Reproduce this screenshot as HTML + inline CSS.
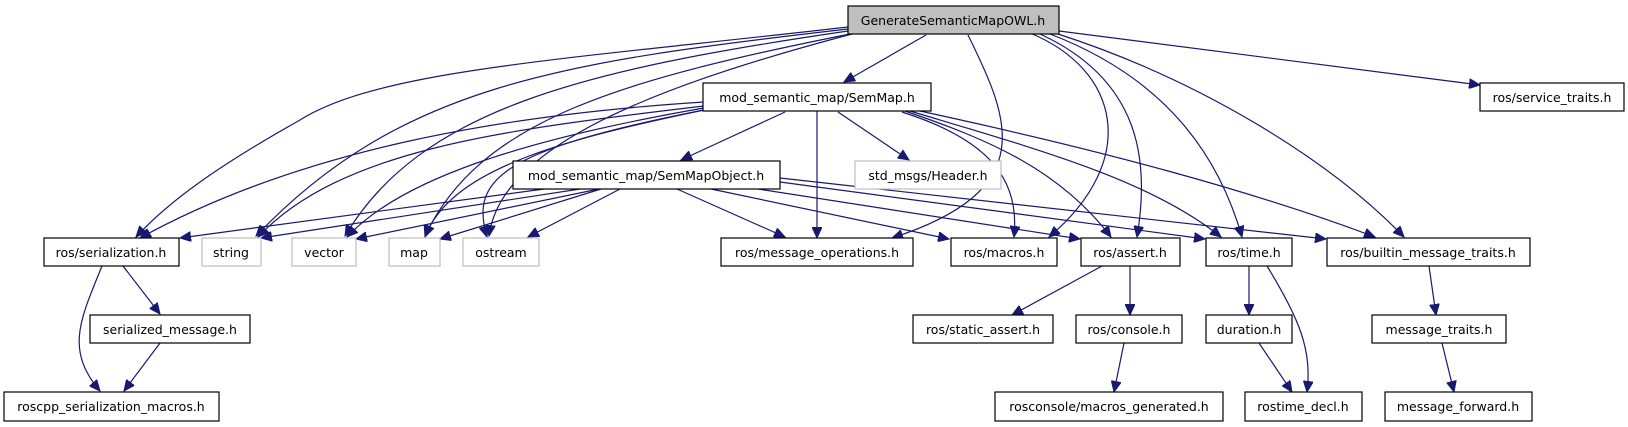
<!DOCTYPE html>
<html><head><meta charset="utf-8"><style>
html,body{margin:0;padding:0;background:#fff;}
svg{display:block;}
text{font-family:"DejaVu Sans","Liberation Sans",sans-serif;font-size:12.5px;fill:#000;text-anchor:middle;}
.e{fill:none;stroke:#191970;stroke-width:1.2;marker-end:url(#a);}
.b{fill:#fff;stroke:#000;stroke-width:1.2;}
.g{fill:#fff;stroke:#bfbfbf;stroke-width:1.2;}
</style></head><body>
<svg width="1628" height="427" viewBox="0 0 1628 427" xmlns="http://www.w3.org/2000/svg">
<defs><marker id="a" markerUnits="userSpaceOnUse" markerWidth="12" markerHeight="10" refX="11" refY="5" orient="auto"><path d="M0,0 L11,5 L0,10 z" fill="#191970" stroke="#191970"/></marker></defs>
<!-- Generate edges -->
<path class="e" d="M926,35 L844,82"/>
<path class="e" d="M848,27 C560,60 380,70 300,120 C220,165 170,200 136,237"/>
<path class="e" d="M848,29 C560,62 400,85 256,236"/>
<path class="e" d="M848,31 C580,70 420,110 345,236"/>
<path class="e" d="M850,34 C620,80 480,120 425,236"/>
<path class="e" d="M852,34 C640,90 500,150 489,236"/>
<path class="e" d="M968,35 C1010,120 1040,190 892,238"/>
<path class="e" d="M1030,33 C1120,70 1140,160 1049,237"/>
<path class="e" d="M1040,34 C1140,80 1150,160 1137,237"/>
<path class="e" d="M1050,34 C1170,80 1220,160 1242,237"/>
<path class="e" d="M1058,34 C1200,80 1330,160 1404,237"/>
<path class="e" d="M1059,31 L1480,85"/>
<!-- SemMap edges -->
<path class="e" d="M785,112 L681,160"/>
<path class="e" d="M838,112 L909,160"/>
<path class="e" d="M817,111 L817,238"/>
<path class="e" d="M704,102 C500,115 300,150 140,238"/>
<path class="e" d="M704,106 C500,130 340,150 258,237"/>
<path class="e" d="M704,108 C520,140 400,180 347,237"/>
<path class="e" d="M704,110 C560,140 450,170 425,237"/>
<path class="e" d="M704,110 C500,150 470,180 487,237"/>
<path class="e" d="M902,112 C990,140 1020,180 1014,237"/>
<path class="e" d="M905,111 C990,140 1060,170 1111,237"/>
<path class="e" d="M910,111 C1040,150 1150,180 1221,237"/>
<path class="e" d="M920,111 C1100,150 1250,190 1375,237"/>
<!-- SemMapObject edges -->
<path class="e" d="M544,189 L180,238"/>
<path class="e" d="M580,189 L261,238"/>
<path class="e" d="M599,189 L356,239"/>
<path class="e" d="M601,189 L440,239"/>
<path class="e" d="M620,189 L528,237"/>
<path class="e" d="M677,189 L785,237"/>
<path class="e" d="M711,189 L949,239"/>
<path class="e" d="M758,189 L1080,239"/>
<path class="e" d="M780,182 L1205,239"/>
<path class="e" d="M780,178 L1326,239"/>
<!-- lower edges -->
<path class="e" d="M123,266 L160,314"/>
<path class="e" d="M102,266 C80,320 65,350 100,391"/>
<path class="e" d="M160,343 L124,391"/>
<path class="e" d="M1102,266 L1012,315"/>
<path class="e" d="M1130,266 L1130,315"/>
<path class="e" d="M1124,343 L1114,392"/>
<path class="e" d="M1249,266 L1249,315"/>
<path class="e" d="M1267,266 C1300,320 1312,350 1307,392"/>
<path class="e" d="M1259,343 L1292,392"/>
<path class="e" d="M1429,266 L1436,315"/>
<path class="e" d="M1442,343 L1454,392"/>
<!-- nodes -->
<rect x="848" y="6" width="211" height="28" fill="#bfbfbf" stroke="#000" stroke-width="1.2"/><text x="953" y="25">GenerateSemanticMapOWL.h</text>
<rect class="b" x="703" y="83" width="228" height="28"/><text x="817" y="102">mod_semantic_map/SemMap.h</text>
<rect class="b" x="1480" y="83" width="144" height="28"/><text x="1552" y="102">ros/service_traits.h</text>
<rect class="b" x="513" y="161" width="267" height="28"/><text x="646" y="180">mod_semantic_map/SemMapObject.h</text>
<rect class="g" x="855" y="161" width="146" height="28"/><text x="928" y="180">std_msgs/Header.h</text>
<rect class="b" x="44" y="238" width="135" height="28"/><text x="111" y="257">ros/serialization.h</text>
<rect class="g" x="202" y="238" width="59" height="28"/><text x="231" y="257">string</text>
<rect class="g" x="292" y="238" width="64" height="28"/><text x="324" y="257">vector</text>
<rect class="g" x="389" y="238" width="51" height="28"/><text x="414" y="257">map</text>
<rect class="g" x="463" y="238" width="76" height="28"/><text x="501" y="257">ostream</text>
<rect class="b" x="721" y="238" width="192" height="28"/><text x="817" y="257">ros/message_operations.h</text>
<rect class="b" x="951" y="238" width="106" height="28"/><text x="1004" y="257">ros/macros.h</text>
<rect class="b" x="1081" y="238" width="99" height="28"/><text x="1130" y="257">ros/assert.h</text>
<rect class="b" x="1206" y="238" width="86" height="28"/><text x="1249" y="257">ros/time.h</text>
<rect class="b" x="1327" y="238" width="203" height="28"/><text x="1428" y="257">ros/builtin_message_traits.h</text>
<rect class="b" x="90" y="315" width="160" height="28"/><text x="170" y="334">serialized_message.h</text>
<rect class="b" x="913" y="315" width="140" height="28"/><text x="983" y="334">ros/static_assert.h</text>
<rect class="b" x="1076" y="315" width="106" height="28"/><text x="1129" y="334">ros/console.h</text>
<rect class="b" x="1206" y="315" width="86" height="28"/><text x="1249" y="334">duration.h</text>
<rect class="b" x="1372" y="315" width="134" height="28"/><text x="1439" y="334">message_traits.h</text>
<rect class="b" x="4" y="392" width="215" height="29"/><text x="111" y="411">roscpp_serialization_macros.h</text>
<rect class="b" x="995" y="392" width="228" height="29"/><text x="1109" y="411">rosconsole/macros_generated.h</text>
<rect class="b" x="1245" y="392" width="117" height="29"/><text x="1303" y="411">rostime_decl.h</text>
<rect class="b" x="1385" y="392" width="147" height="29"/><text x="1458" y="411">message_forward.h</text>
</svg>
</body></html>
